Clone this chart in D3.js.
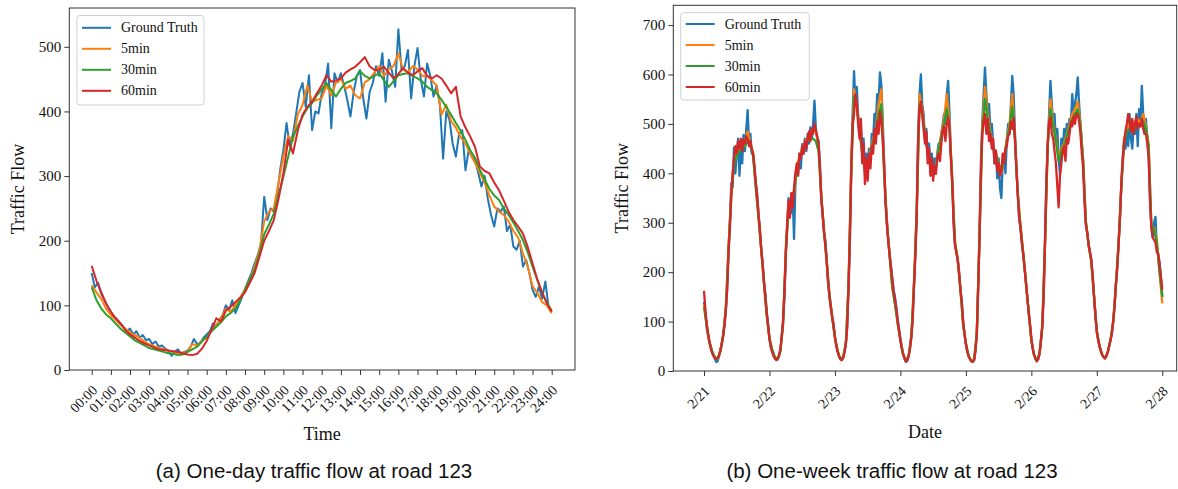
<!DOCTYPE html>
<html><head><meta charset="utf-8">
<script src="https://cdn.jsdelivr.net/npm/d3@7/dist/d3.min.js"></script>
<style>body{margin:0;background:#fff}svg{display:block}</style>
</head><body>
<svg id="chart" width="1178" height="489"></svg>
<script>
// ---------------- DATA ----------------
const seriesNames = ["Ground Truth", "5min", "30min", "60min"];

// One-day chart (values every N minutes from 00:00 to 24:00)
const dayTickHours = [0,1,2,3,4,5,6,7,8,9,10,11,12,13,14,15,16,17,18,19,20,21,22,23,24];
const dayTickLabels = ["00:00","01:00","02:00","03:00","04:00","05:00","06:00","07:00","08:00","09:00","10:00","11:00","12:00","13:00","14:00","15:00","16:00","17:00","18:00","19:00","20:00","21:00","22:00","23:00","24:00"];
const dayYTicks = [0,100,200,300,400,500];
const dayGTStepMin = 10;
const dayPredStepMin = 15;
const dayGT = [
150,128,135,118,108,98, 90,82,78,72,66,60, 64,55,60,50,54,46, 48,40,44,36,38,33,
30,22,28,32,25,28, 30,36,48,40,42,50, 55,60,72,68,78,85, 100,92,108,88,100,112,
125,138,150,165,178,195, 268,232,250,245,268,310, 340,382,346,365,397,430, 444,407,456,371,400,397,
428,440,474,374,459,445, 459,440,418,392,430,455, 464,420,389,430,444,470, 455,490,415,480,462,438,
527,464,470,495,420,470, 498,450,423,474,455,423, 440,410,327,400,387,350, 330,365,371,309,340,330,
325,305,284,300,265,240, 222,250,245,253,215,225, 191,186,200,160,170,150, 124,113,129,110,137,98,
90];
const day5min = [
131,120,110,95, 85,78,70,64, 58,54,50,44, 40,37,34,32, 30,28,26,27, 28,40,38,45,
50,60,70,80, 95,90,100,112, 125,140,160,185, 230,245,250,290, 330,362,355,395, 410,440,415,418,
420,440,425,445, 450,435,440,425, 420,445,450,460, 470,455,465,470, 490,465,460,470, 465,455,455,448,
440,395,410,385, 375,360,350,335, 320,305,290,270, 253,245,240,230, 215,205,180,160, 130,119,105,100,
88];
const day30min = [
128,108,95,86, 80,72,64,58, 52,46,42,38, 34,32,30,28, 26,25,23,24, 28,32,36,44,
52,60,67,74, 83,88,95,108, 124,140,155,180, 210,225,242,270, 299,330,360,377, 392,405,413,425,
434,444,433,423, 435,444,447,451, 462,455,451,455, 459,448,438,447, 456,458,459,455, 451,446,438,433,
428,418,407,395, 382,370,356,340, 328,310,295,280, 270,263,250,240, 228,215,201,182, 160,139,119,104,
92];
const day60min = [
161,138,120,103, 90,80,72,62, 55,50,45,41, 38,35,32,31, 30,29,28,26, 24,23,25,33,
45,62,80,75, 92,98,105,112, 120,135,150,175, 200,215,232,265, 304,356,335,370, 395,407,415,428,
440,456,446,448, 451,460,465,469, 476,484,470,464, 465,469,460,451, 458,467,460,456, 462,467,455,451,
456,451,440,428, 438,392,375,361, 345,315,308,304, 290,278,262,245, 232,222,211,190, 165,140,120,103,
90];

// One-week chart (2/21 00:00 to 2/28 00:00)
const weekTickDays = [0,1,2,3,4,5,6,7];
const weekTickLabels = ["2/21","2/22","2/23","2/24","2/25","2/26","2/27","2/28"];
const weekYTicks = [0,100,200,300,400,500,600,700];
const weekGTStepHours = 0.5;
const week60StepHours = 0.5;
const weekPredStepHours = 1;
const weekGT = [
140,118,88,70,58,48,38,32,24,18,20,30,40,55,70,95,120,170,250,300,380,372,452,400,440,470,395,455,420,478,445,490,528,460,480,440,440,410,380,358,318,285,245,220,180,156,118,95,
65,48,40,32,26,22,23,30,42,70,100,150,240,291,350,330,320,360,267,380,412,400,440,410,459,440,470,445,480,460,493,470,500,547,490,470,466,420,345,320,280,264,220,176,150,130,110,96,
70,52,40,30,24,22,28,40,55,90,180,277,420,520,607,540,575,520,480,500,439,470,400,440,410,450,420,480,470,520,500,560,540,604,580,510,430,350,310,270,240,215,190,165,150,130,105,85,
65,48,35,25,18,20,30,45,70,105,180,240,330,480,560,600,540,520,470,490,440,460,412,440,395,430,410,440,460,450,480,500,520,500,560,587,520,440,390,300,255,240,228,200,165,140,100,75,
55,40,30,24,20,18,22,40,75,170,277,420,500,560,614,560,520,540,480,500,460,420,446,390,430,370,350,420,440,400,466,500,480,540,597,560,480,412,360,311,290,260,237,210,180,150,120,95,
65,45,33,25,20,24,35,60,90,150,260,380,459,520,587,540,500,520,460,490,430,400,470,440,490,460,500,480,510,500,560,520,540,560,594,540,500,460,426,350,300,280,255,240,224,190,150,110,
80,62,50,40,32,28,25,30,38,50,62,75,100,130,175,210,260,311,380,430,470,450,493,455,520,470,450,500,480,520,455,530,500,577,520,480,510,470,440,346,290,270,300,312,250,235,220,190,
150];
const week5min = [
135,92,58,38,27,24,40,72,128,250,365,430,440,455,450,465,485,460,440,372,312,245,175,112,
66,42,27,23,40,100,250,340,335,360,410,435,450,460,475,480,490,485,455,350,280,220,152,108,
68,40,24,28,55,180,420,570,540,490,445,410,420,445,470,490,540,570,410,305,237,170,138,98,
62,35,20,30,70,180,330,560,530,480,445,420,405,415,450,480,510,560,500,385,262,225,165,95,
55,30,20,22,75,277,490,575,520,485,455,440,420,400,430,470,500,560,470,360,295,240,180,120,
62,33,20,35,90,260,460,550,500,470,430,450,460,480,500,520,530,545,500,425,300,255,220,150,
80,50,32,25,38,62,100,175,260,380,470,490,500,495,505,510,500,520,495,460,290,290,265,200,
137];
const week30min = [
130,92,60,40,28,25,40,70,125,245,355,420,435,445,450,455,465,455,435,370,310,245,178,112,
66,44,28,24,40,95,240,330,340,365,405,430,445,455,465,470,470,465,445,355,285,222,155,108,
68,40,24,28,55,175,410,555,535,485,440,405,415,440,465,485,520,540,405,300,236,170,135,96,
62,35,20,30,70,175,325,540,520,475,440,415,400,410,445,475,500,530,490,380,260,225,165,93,
55,31,20,22,75,270,480,550,510,480,450,440,420,405,430,465,495,535,465,360,295,240,180,120,
62,33,20,35,90,255,455,530,495,465,425,445,455,475,495,510,520,530,495,420,300,255,220,150,
80,50,32,26,38,62,100,175,260,375,460,485,490,485,495,500,495,505,490,455,295,285,260,200,
150];
const week60min = [
162,125,95,75,58,45,36,30,26,24,26,32,42,55,72,90,125,165,240,290,355,400,430,455,440,465,450,470,445,468,460,475,470,455,465,450,440,415,380,350,315,285,245,215,180,150,118,92,
65,48,38,30,25,23,25,32,45,70,105,160,240,300,345,310,360,330,370,400,420,395,440,430,455,440,465,450,470,485,465,490,480,500,486,475,460,410,350,315,280,255,220,180,150,128,108,90,
68,50,38,30,24,22,26,38,55,90,170,270,410,500,520,560,540,500,470,510,420,460,378,430,385,440,410,455,440,490,460,505,480,525,505,470,420,345,300,265,237,210,185,160,145,125,100,82,
62,45,33,25,20,22,30,45,68,105,175,235,320,470,530,545,520,490,460,485,420,450,395,430,385,415,399,430,440,425,460,485,495,465,500,513,490,430,380,300,255,240,225,200,165,140,100,75,
55,40,30,24,20,19,22,40,75,165,270,400,480,505,520,480,510,465,480,450,470,420,446,405,420,395,405,440,420,450,455,475,480,505,490,513,470,412,360,311,290,260,237,210,180,150,120,95,
65,45,33,25,20,24,35,60,90,150,260,380,459,505,513,480,470,445,420,375,331,395,420,445,455,425,470,460,480,505,495,515,500,520,520,505,480,440,410,340,295,280,255,240,224,190,150,110,
80,62,50,40,33,28,26,30,38,50,62,75,100,130,175,210,260,311,380,430,460,485,500,520,505,485,510,480,500,515,490,500,495,510,490,480,480,460,430,346,290,270,265,260,240,238,215,190,
165];

// ---------------- RENDER ----------------
const colors = ["#1f77b4", "#ff7f0e", "#2ca02c", "#d62728"];
const serif = "'Liberation Serif','Times New Roman',serif";
const sans = "'Liberation Sans',Arial,sans-serif";
const svg = d3.select("#chart");

function drawPanel(p) {
  const x = d3.scaleLinear().domain(p.xDomain).range([p.left, p.right]);
  const y = d3.scaleLinear().domain(p.yDomain).range([p.bottom, p.top]);
  const g = svg.append("g");

  // lines
  const line = d3.line().x(d => x(d[0])).y(d => y(d[1]));
  p.series.forEach((s, i) => {
    const pts = s.values.map((v, k) => [k * s.step, v]);
    g.append("path").datum(pts).attr("d", line)
      .attr("fill", "none").attr("stroke", colors[i])
      .attr("stroke-width", p.lineWidth).attr("stroke-linejoin", "round");
  });

  // frame
  g.append("rect").attr("x", p.left).attr("y", p.top)
    .attr("width", p.right - p.left).attr("height", p.bottom - p.top)
    .attr("fill", "none").attr("stroke", "#333").attr("stroke-width", 1);

  // y axis
  const ya = g.append("g").attr("transform", `translate(${p.left},0)`)
    .call(d3.axisLeft(y).tickValues(p.yTicks).tickSize(5).tickPadding(3).tickFormat(d3.format("d")));
  ya.select(".domain").remove();
  ya.selectAll("line").attr("stroke", "#333");
  ya.selectAll("text").attr("font-family", serif).attr("font-size", 15).attr("fill", "#111");

  // x axis
  const xa = g.append("g").attr("transform", `translate(0,${p.bottom})`)
    .call(d3.axisBottom(x).tickValues(p.xTicks).tickSize(5).tickFormat((d, i) => p.xLabels[i]));
  xa.select(".domain").remove();
  xa.selectAll("line").attr("stroke", "#333");
  xa.selectAll("text").attr("font-family", serif).attr("font-size", 14).attr("fill", "#111")
    .attr("x", 0).attr("y", 0).attr("dy", 0)
    .attr("text-anchor", "end").attr("transform", "translate(6,21) rotate(-45)");

  // axis titles
  g.append("text").attr("x", (p.left + p.right) / 2).attr("y", p.xTitleY)
    .attr("text-anchor", "middle").attr("font-family", serif).attr("font-size", 18).attr("fill", "#111")
    .text(p.xTitle);
  g.append("text").attr("transform", `translate(${p.yTitleX},${(p.top + p.bottom) / 2}) rotate(-90)`)
    .attr("text-anchor", "middle").attr("dy", "0.35em").attr("font-family", serif).attr("font-size", 18).attr("fill", "#111")
    .text("Traffic Flow");

  // legend
  const L = p.legend;
  const lg = g.append("g");
  lg.append("rect").attr("x", L.x).attr("y", L.y).attr("width", L.w).attr("height", L.h)
    .attr("rx", 3).attr("fill", "#fff").attr("fill-opacity", 0.85).attr("stroke", "#d0d0d0");
  seriesNames.forEach((name, i) => {
    const cy = L.y + L.first + i * L.gap;
    lg.append("line").attr("x1", L.x + 5).attr("x2", L.x + 34).attr("y1", cy).attr("y2", cy)
      .attr("stroke", colors[i]).attr("stroke-width", 2);
    lg.append("text").attr("x", L.x + 44).attr("y", cy).attr("dy", "0.33em")
      .attr("font-family", serif).attr("font-size", 14).attr("fill", "#111").text(name);
  });

  // caption
  svg.append("text").attr("x", p.capX).attr("y", 478).attr("text-anchor", "middle")
    .attr("font-family", sans).attr("font-size", 20.5).attr("fill", "#111").text(p.caption);
}

drawPanel({
  left: 69.3, right: 575, top: 8, bottom: 370,
  xDomain: [-1.168, 25.215], yDomain: [0, 560],
  xTicks: dayTickHours, xLabels: dayTickLabels, yTicks: dayYTicks,
  series: [
    {values: dayGT, step: dayGTStepMin / 60},
    {values: day5min, step: dayPredStepMin / 60},
    {values: day30min, step: dayPredStepMin / 60},
    {values: day60min, step: dayPredStepMin / 60}
  ],
  lineWidth: 2, xTitle: "Time", xTitleY: 440, yTitleX: 18,
  legend: {x: 77, y: 15.5, w: 127, h: 89.5, first: 12.3, gap: 21},
  caption: "(a) One-day traffic flow at road 123", capX: 314
});

drawPanel({
  left: 673.3, right: 1176.7, top: 5.3, bottom: 371,
  xDomain: [-0.469, 7.22], yDomain: [0, 740],
  xTicks: weekTickDays, xLabels: weekTickLabels, yTicks: weekYTicks,
  series: [
    {values: weekGT, step: weekGTStepHours / 24},
    {values: week5min, step: weekPredStepHours / 24},
    {values: week30min, step: weekPredStepHours / 24},
    {values: week60min, step: week60StepHours / 24}
  ],
  lineWidth: 2.3, xTitle: "Date", xTitleY: 438, yTitleX: 622,
  legend: {x: 680.7, y: 12.7, w: 128.6, h: 87.3, first: 11.3, gap: 21},
  caption: "(b) One-week traffic flow at road 123", capX: 892
});
</script>
</body></html>
